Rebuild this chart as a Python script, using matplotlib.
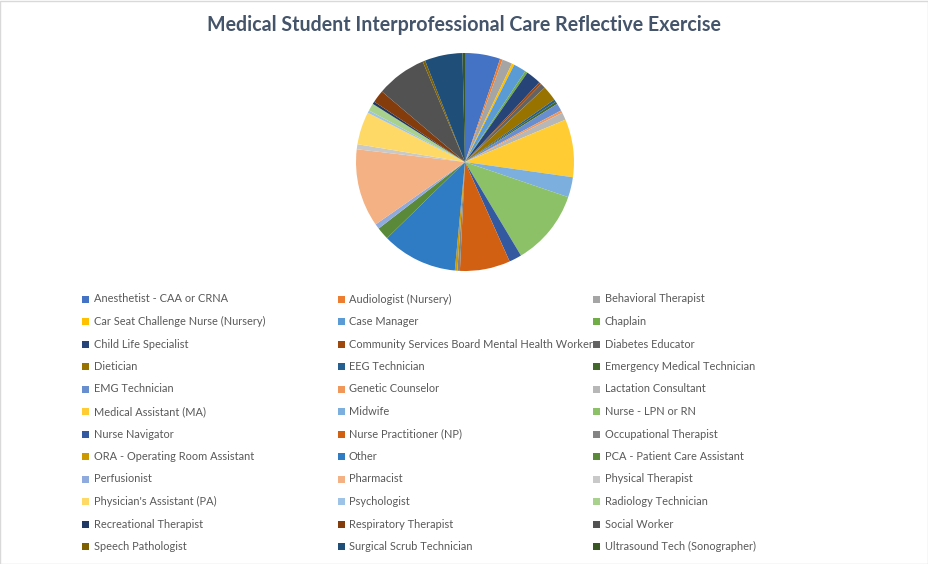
import matplotlib
matplotlib.use("Agg")
import matplotlib.pyplot as plt
from matplotlib.patches import Rectangle

plt.rcParams['font.family'] = ['Lato', 'DejaVu Sans']

title = "Medical Student Interprofessional Care Reflective Exercise"

roles = [
    "Anesthetist - CAA or CRNA", "Audiologist (Nursery)", "Behavioral Therapist",
    "Car Seat Challenge Nurse (Nursery)", "Case Manager", "Chaplain",
    "Child Life Specialist", "Community Services Board Mental Health Worker", "Diabetes Educator",
    "Dietician", "EEG Technician", "Emergency Medical Technician",
    "EMG Technician", "Genetic Counselor", "Lactation Consultant",
    "Medical Assistant (MA)", "Midwife", "Nurse - LPN or RN",
    "Nurse Navigator", "Nurse Practitioner (NP)", "Occupational Therapist",
    "ORA - Operating Room Assistant", "Other", "PCA - Patient Care Assistant",
    "Perfusionist", "Pharmacist", "Physical Therapist",
    "Physician's Assistant (PA)", "Psychologist", "Radiology Technician",
    "Recreational Therapist", "Respiratory Therapist", "Social Worker",
    "Speech Pathologist", "Surgical Scrub Technician", "Ultrasound Tech (Sonographer)",
]

counts = [
    14, 1, 4,
    1, 5, 1,
    6, 1, 2,
    6, 1, 1,
    3, 1, 3,
    23, 8, 30,
    5, 20, 1,
    1, 30, 5,
    2, 31, 2,
    13, 1, 3,
    1, 5, 20,
    1, 15, 1,
]

colors = [
    "#4472C4", "#ED7D31", "#A5A5A5", "#FFC000", "#5B9BD5", "#70AD47",
    "#264478", "#9E480E", "#636363", "#997300", "#255E91", "#43682B",
    "#698ED0", "#F1975A", "#B7B7B7", "#FFCD33", "#7CAFDD", "#8CC168",
    "#335AA1", "#D26012", "#848484", "#CC9A00", "#2F7BC4", "#5A8A39",
    "#8FAADC", "#F4B183", "#C9C9C9", "#FFD966", "#9DC3E6", "#A9D18E",
    "#203864", "#843C0C", "#525252", "#7F6000", "#1F4E79", "#385723",
]

W, H = 929, 564
fig = plt.figure(figsize=(W / 100, H / 100), dpi=100)
fig.patch.set_facecolor("white")

# chart frame
fig.add_artist(Rectangle((0.5 / W, 0.5 / H), 1 - 1.5 / W, 1 - 1.5 / H,
                         transform=fig.transFigure, fill=False,
                         edgecolor="#D9D9D9", linewidth=1))

fig.text(464 / W, 1 - 25 / H, title, ha="center", va="center",
         fontsize=14.1, fontweight="bold", color="#44546A")

# pie
cx, cy, r = 465, 162, 109
ax = fig.add_axes([(cx - r) / W, 1 - (cy + r) / H, 2 * r / W, 2 * r / H])
ax.pie(counts, colors=colors, startangle=90, counterclock=False, radius=1,
       wedgeprops=dict(linewidth=0))
ax.set_xlim(-1, 1)
ax.set_ylim(-1, 1)
ax.set_aspect("equal")
ax.axis("off")

# legend, three columns, row-major like Excel
col_x = [86, 341, 597]
row_y0, row_dy = 299, 22.5
for i, (name, c) in enumerate(zip(roles, colors)):
    row, col = divmod(i, 3)
    x = col_x[col]
    y = row_y0 + row * row_dy
    fig.add_artist(Rectangle(((x - 3.5) / W, 1 - (y + 3.5) / H), 7 / W, 7 / H,
                             transform=fig.transFigure, facecolor=c,
                             edgecolor="none"))
    fig.text((x + 8) / W, 1 - y / H, name, ha="left", va="center",
             fontsize=7.9, color="#595959")

fig.savefig("out.png", dpi=100)
